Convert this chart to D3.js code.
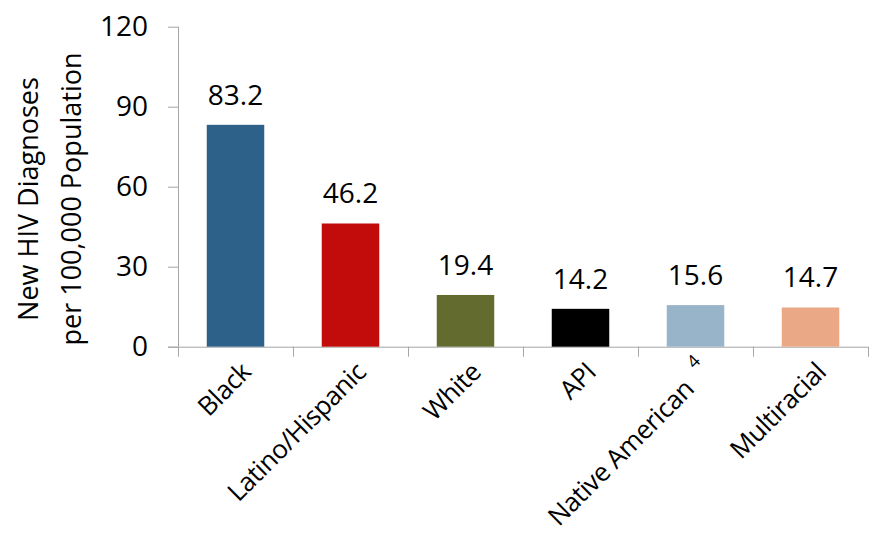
<!DOCTYPE html>
<html>
<head>
<meta charset="utf-8">
<script src="https://cdn.jsdelivr.net/npm/d3@7"></script>
<style>
  body { margin: 0; background: #fff; }
  text { font-family: "Open Sans", sans-serif; fill: #000; }
</style>
</head>
<body>
<svg class="chart" width="869" height="539"></svg>
<script>
// data ========================================================================
var categories = ['Black', 'Latino/Hispanic', 'White', 'API', 'Native American', 'Multiracial'],
    values = [83.2, 46.2, 19.4, 14.2, 15.6, 14.7],
    valueLabels = ['83.2', '46.2', '19.4', '14.2', '15.6', '14.7'],
    footnotes = ['', '', '', '', '4', ''],
    barColors = ['#2E6189', '#C20C0C', '#636B2F', '#000000', '#98B4C8', '#EAA886'],
    yTicks = [0, 30, 60, 90, 120],
    yTitle = ['New HIV Diagnoses', 'per 100,000 Population'];

var svg = d3.select('.chart'),
    margin = {top: 26.7, right: 1, bottom: 192.3, left: 178},
    width = +svg.attr('width') - margin.left - margin.right,
    height = +svg.attr('height') - margin.top - margin.bottom,
    g = svg.append('g').attr('transform', 'translate(' + margin.left + ',' + margin.top + ')');

var x = d3.scaleBand().domain(categories).range([0, width]).paddingInner(0.5).paddingOuter(0.25),
    y = d3.scaleLinear().domain([0, 120]).range([height, 0]);

var axisColor = '#A6A6A6';

// y axis
var yAxis = g.append('g')
    .call(d3.axisLeft(y).tickValues(yTicks).tickSize(10).tickPadding(20));
yAxis.select('.domain').attr('stroke', axisColor).attr('d', 'M0.5,0V' + height);
yAxis.selectAll('.tick line').attr('stroke', axisColor);
yAxis.selectAll('.tick text').style('font-size', '28px').attr('fill', '#000');

// x axis: ticks at band edges
var edges = categories.map(function(c) { return x(c) - x.step() * 0.25; }).concat([width]);
var xAxis = g.append('g').attr('transform', 'translate(0,' + height + ')');
xAxis.append('line')
    .attr('x1', -10).attr('x2', width)
    .attr('y1', 0.5).attr('y2', 0.5)
    .attr('stroke', axisColor);
xAxis.selectAll('.edge')
    .data(edges)
    .enter().append('line')
        .attr('class', 'edge')
        .attr('x1', function(d) { return Math.round(d) + 0.5; })
        .attr('x2', function(d) { return Math.round(d) + 0.5; })
        .attr('y1', 0).attr('y2', 10)
        .attr('stroke', axisColor);

// bars
g.selectAll('.bar')
    .data(categories)
    .enter().append('rect')
        .attr('class', 'bar')
        .attr('x', function(d) { return x(d); })
        .attr('width', x.bandwidth())
        .attr('y', function(d, i) { return y(values[i]); })
        .attr('height', function(d, i) { return height - y(values[i]); })
        .attr('fill', function(d, i) { return barColors[i]; });

// value labels
g.selectAll('.value')
    .data(categories)
    .enter().append('text')
        .attr('class', 'value')
        .attr('x', function(d) { return x(d) + x.bandwidth() / 2; })
        .attr('y', function(d, i) { return y(values[i]) - 20; })
        .attr('text-anchor', 'middle')
        .style('font-size', '28px')
        .text(function(d, i) { return valueLabels[i]; });

// category labels, rotated
var cat = g.selectAll('.cat')
    .data(categories)
    .enter().append('text')
        .attr('class', 'cat')
        .attr('text-anchor', 'end')
        .style('font-size', '26px')
        .style('letter-spacing', '-0.4px')
        .attr('transform', function(d) {
            return 'translate(' + (x(d) + x.bandwidth() / 2 + 17) + ',' + (height + 27) + ') rotate(-45)';
        });
cat.append('tspan').text(function(d) { return d; });
cat.filter(function(d, i) { return footnotes[i] !== ''; })
    .append('tspan')
        .attr('dx', 14)
        .attr('dy', -16)
        .style('font-size', '18px')
        .text(function(d) { return footnotes[categories.indexOf(d)]; });

// y title
var title = svg.append('text')
    .attr('text-anchor', 'middle')
    .style('font-size', '27px')
    .attr('transform', 'translate(38,199) rotate(-90)');
title.selectAll('tspan')
    .data(yTitle)
    .enter().append('tspan')
        .attr('x', 0)
        .attr('dy', function(d, i) { return i ? 43 : 0; })
        .text(function(d) { return d; });
</script>
</body>
</html>
